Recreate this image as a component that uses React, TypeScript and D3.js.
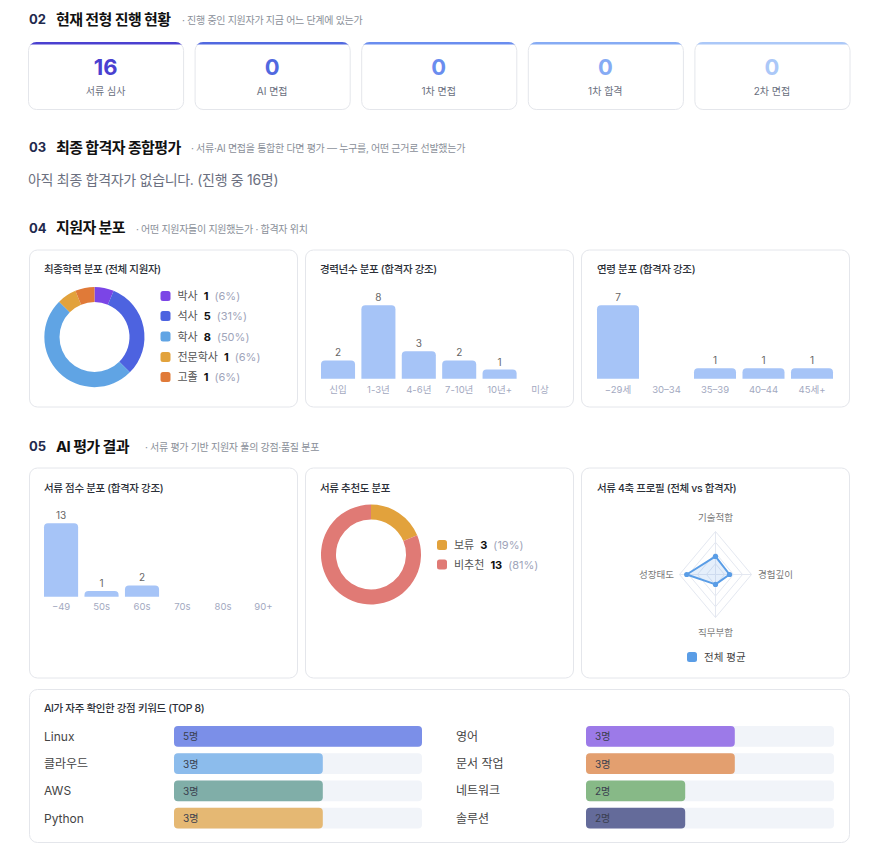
import { arc, line, curveLinearClosed, pie, scaleBand, scaleLinear, max } from 'd3';

const stageLabels = ['서류 심사', 'AI 면접', '1차 면접', '1차 합격', '2차 면접'];
const stageCounts = [16, 0, 0, 0, 0];
const stageColors = ['#4a40d0', '#5169e0', '#6a8def', '#86abf4', '#abc8f8'];

const eduLabels = ['박사', '석사', '학사', '전문학사', '고졸'];
const eduCounts = [1, 5, 8, 1, 1];
const eduColors = ['#7b45e6', '#4d63e0', '#60a4e4', '#e2a23c', '#e07a38'];

const careerLabels = ['신입', '1-3년', '4-6년', '7-10년', '10년+', '미상'];
const careerCounts = [2, 8, 3, 2, 1, 0];

const ageLabels = ['−29세', '30–34', '35–39', '40–44', '45세+'];
const ageCounts = [7, 0, 1, 1, 1];

const scoreLabels = ['−49', '50s', '60s', '70s', '80s', '90+'];
const scoreCounts = [13, 1, 2, 0, 0, 0];

const recLabels = ['보류', '비추천'];
const recCounts = [3, 13];
const recColors = ['#e2a23c', '#e07a75'];

const radarAxes = ['기술적합', '경험깊이', '직무부합', '성장태도'];
const radarAvg = [42, 39, 23, 80];

const keywordLabels = ['Linux', '클라우드', 'AWS', 'Python', '영어', '문서 작업', '네트워크', '솔루션'];
const keywordCounts = [5, 3, 3, 3, 3, 3, 2, 2];
const keywordColors = ['#7b8fe8', '#8cbcec', '#80aea8', '#e5b873', '#9c7ae8', '#e39f6f', '#87b987', '#646b9a'];

const W = 873;
const H = 850;
const font = "Inter, 'Noto Sans CJK KR', sans-serif";
const barColor = '#a6c4f7';
const border = '#e4e6eb';

function Card({ x, y, w, h }: { x: number; y: number; w: number; h: number }) {
  return <rect x={x + 0.5} y={y + 0.5} width={w} height={h} rx={8} fill="#fff" stroke={border} />;
}

function SectionHeader({ num, title, sub, y, subX }: { num: string; title: string; sub: string; y: number; subX: number }) {
  return (
    <g>
      <text x={29} y={y} dominantBaseline="central" fontSize={13} fontWeight={700} fill="#1f2a4d">{num}</text>
      <text x={56} y={y} dominantBaseline="central" fontSize={15} fontWeight={700} fill="#111" letterSpacing={-0.6}>{title}</text>
      <text x={subX} y={y + 1} dominantBaseline="central" fontSize={10} fill="#8a8f99" letterSpacing={-0.3}>{sub}</text>
    </g>
  );
}

function CardTitle({ x, y, text }: { x: number; y: number; text: string }) {
  return <text x={x} y={y} dominantBaseline="central" fontSize={10.5} fontWeight={500} fill="#2b2f38" letterSpacing={-0.35}>{text}</text>;
}

function Bars({ labels, values, x0, x1, baseline, labelY }: { labels: string[]; values: number[]; x0: number; x1: number; baseline: number; labelY: number }) {
  const x = scaleBand<string>().domain(labels).range([x0, x1]).paddingInner(labels.length === 5 ? 0.134 : 0.157).paddingOuter(0);
  const y = scaleLinear().domain([0, max(values) ?? 1]).range([baseline, baseline - 73.5]);
  const bw = x.bandwidth();
  return (
    <g>
      {labels.map((label, i) => {
        const bx = x(label) ?? x0;
        const top = y(values[i]);
        const h = baseline - top;
        const r = Math.min(4, h);
        return (
          <g key={label}>
            {values[i] > 0 && (
              <>
                <path
                  d={`M${bx},${baseline}V${top + r}Q${bx},${top} ${bx + r},${top}H${bx + bw - r}Q${bx + bw},${top} ${bx + bw},${top + r}V${baseline}Z`}
                  fill={barColor}
                />
                <text x={bx + bw / 2} y={top - 8} textAnchor="middle" dominantBaseline="central" fontSize={10} fill="#666">{values[i]}</text>
              </>
            )}
            <text x={bx + bw / 2} y={labelY} textAnchor="middle" dominantBaseline="central" fontSize={9.5} fill="#a3a9bf">{label}</text>
          </g>
        );
      })}
    </g>
  );
}

function Donut({ cx, cy, labels, values, colors, legendY }: { cx: number; cy: number; labels: string[]; values: number[]; colors: string[]; legendY: number[] }) {
  const total = values.reduce((s, v) => s + v, 0);
  const arcs = pie<number>().sort(null).value(d => d)(values);
  const arcGen = arc<any>().innerRadius(35).outerRadius(50);
  return (
    <g>
      {arcs.map((a, i) => (
        <path key={i} d={arcGen(a) ?? ''} transform={`translate(${cx},${cy})`} fill={colors[i]} />
      ))}
      {labels.map((label, i) => (
        <g key={label}>
          <rect x={cx + 66} y={legendY[i] - 5} width={10} height={10} rx={2.5} fill={colors[i]} />
          <text x={cx + 83} y={legendY[i]} dominantBaseline="central" fontSize={11}>
            <tspan fill="#555">{label}</tspan>
            <tspan dx={6} fill="#111" fontWeight={700}>{values[i]}</tspan>
            <tspan dx={6} fill="#a0a5ba">({Math.round((values[i] / total) * 100)}%)</tspan>
          </text>
        </g>
      ))}
    </g>
  );
}

function Radar() {
  const cx = 715.5;
  const cy = 574.5;
  const rx = 36;
  const ry = 43;
  const r = scaleLinear().domain([0, 100]).range([0, 1]);
  const angles = radarAxes.map((_, i) => (i * Math.PI * 2) / radarAxes.length);
  const pt = (a: number, k: number): [number, number] => [cx + rx * k * Math.sin(a), cy - ry * k * Math.cos(a)];
  const poly = line<[number, number]>().curve(curveLinearClosed);
  const levels = [0.25, 0.5, 0.75, 1];
  const data = radarAvg.map((v, i) => pt(angles[i], r(v)));
  const labelPos = [
    { x: cx, y: 517, anchor: 'middle' },
    { x: 758, y: cy, anchor: 'start' },
    { x: cx, y: 632, anchor: 'middle' },
    { x: 674, y: cy, anchor: 'end' },
  ];
  return (
    <g>
      {levels.map(l => (
        <path key={l} d={poly(angles.map(a => pt(a, l))) ?? ''} fill="none" stroke="#e4e8f1" strokeWidth={1} />
      ))}
      {angles.map((a, i) => {
        const [x2, y2] = pt(a, 1);
        return <line key={i} x1={cx} y1={cy} x2={x2} y2={y2} stroke="#e4e8f1" />;
      })}
      <path d={poly(data) ?? ''} fill="rgba(91,158,230,0.16)" stroke="#5a9de6" strokeWidth={2} strokeLinejoin="round" />
      {data.map((d, i) => (
        <circle key={i} cx={d[0]} cy={d[1]} r={2.6} fill="#5a9de6" />
      ))}
      {radarAxes.map((label, i) => (
        <text key={label} x={labelPos[i].x} y={labelPos[i].y} textAnchor={labelPos[i].anchor as any} dominantBaseline="central" fontSize={9.5} fill="#777">{label}</text>
      ))}
      <rect x={687} y={652} width={10} height={10} rx={2.5} fill="#5a9de6" />
      <text x={704} y={657} dominantBaseline="central" fontSize={10.5} fill="#444">전체 평균</text>
    </g>
  );
}

function Keywords() {
  const x = scaleLinear().domain([0, max(keywordCounts) ?? 1]).range([0, 248]);
  const rowY = scaleBand<number>().domain([0, 1, 2, 3]).range([726, 828.6]).paddingInner(0.24).paddingOuter(0);
  return (
    <g>
      {keywordLabels.map((label, i) => {
        const col = i < 4 ? 0 : 1;
        const row = i % 4;
        const lx = col === 0 ? 44 : 456;
        const bx = col === 0 ? 174 : 586;
        const y0 = rowY(row) ?? 0;
        const bh = rowY.bandwidth();
        return (
          <g key={label}>
            <text x={lx} y={y0 + bh / 2} dominantBaseline="central" fontSize={12} fill="#444">{label}</text>
            <rect x={bx} y={y0} width={248} height={bh} rx={4} fill="#f1f4f9" />
            <rect x={bx} y={y0} width={x(keywordCounts[i])} height={bh} rx={4} fill={keywordColors[i]} />
            <text x={bx + 9} y={y0 + bh / 2} dominantBaseline="central" fontSize={10} fill="#3a3f4f">{keywordCounts[i]}명</text>
          </g>
        );
      })}
    </g>
  );
}

export default function App() {
  const stageX = scaleBand<string>().domain(stageLabels).range([28, 849.5]).paddingInner(0.069).paddingOuter(0);
  const sw = stageX.bandwidth();
  return (
    <svg width={W} height={H} viewBox={`0 0 ${W} ${H}`} style={{ position: 'absolute', left: 0, top: 0, background: '#fff', fontFamily: font }}>
      <rect width={W} height={H} fill="#fff" />
      <defs>
        {stageLabels.map((label, i) => (
          <clipPath key={label} id={`stage-clip-${i}`}>
            <rect x={(stageX(label) ?? 0) + 0.5} y={42} width={sw} height={67} rx={8} />
          </clipPath>
        ))}
      </defs>

      <SectionHeader num="02" title="현재 전형 진행 현황" sub="· 진행 중인 지원자가 지금 어느 단계에 있는가" y={19} subX={182} />
      {stageLabels.map((label, i) => {
        const sx = stageX(label) ?? 0;
        return (
          <g key={label}>
            <Card x={sx} y={42} w={sw} h={67} />
            <rect x={sx} y={41} width={sw + 1} height={3.5} fill={stageColors[i]} clipPath={`url(#stage-clip-${i})`} />
            <text x={sx + sw / 2} y={67} textAnchor="middle" dominantBaseline="central" fontSize={22} fontWeight={700} fill={stageColors[i]}>{stageCounts[i]}</text>
            <text x={sx + sw / 2} y={90.5} textAnchor="middle" dominantBaseline="central" fontSize={10} fill="#6b7080">{label}</text>
          </g>
        );
      })}

      <SectionHeader num="03" title="최종 합격자 종합평가" sub="· 서류·AI 면접을 통합한 다면 평가 — 누구를, 어떤 근거로 선발했는가" y={147} subX={191} />
      <text x={28} y={179.5} dominantBaseline="central" fontSize={14} fill="#6b7080" letterSpacing={-0.3}>아직 최종 합격자가 없습니다. (진행 중 {stageCounts[0]}명)</text>

      <SectionHeader num="04" title="지원자 분포" sub="· 어떤 지원자들이 지원했는가 · 합격자 위치" y={227.5} subX={136} />
      <Card x={29} y={249.5} w={268} h={157} />
      <Card x={305} y={249.5} w={268} h={157} />
      <Card x={581} y={249.5} w={268} h={157} />
      <CardTitle x={44} y={269.5} text="최종학력 분포 (전체 지원자)" />
      <CardTitle x={320} y={269.5} text="경력년수 분포 (합격자 강조)" />
      <CardTitle x={597} y={269.5} text="연령 분포 (합격자 강조)" />
      <Donut cx={94.5} cy={337} labels={eduLabels} values={eduCounts} colors={eduColors} legendY={[296, 316, 336.5, 357, 377]} />
      <Bars labels={careerLabels} values={careerCounts} x0={321} x1={557} baseline={378.8} labelY={389.7} />
      <Bars labels={ageLabels} values={ageCounts} x0={597} x1={833} baseline={378.8} labelY={389.7} />

      <SectionHeader num="05" title="AI 평가 결과" sub="· 서류 평가 기반 지원자 풀의 강점·품질 분포" y={446} subX={145} />
      <Card x={29} y={467.5} w={268} h={210} />
      <Card x={305} y={467.5} w={268} h={210} />
      <Card x={581} y={467.5} w={268} h={210} />
      <CardTitle x={44} y={488} text="서류 점수 분포 (합격자 강조)" />
      <CardTitle x={320} y={488} text="서류 추천도 분포" />
      <CardTitle x={597} y={488} text="서류 4축 프로필 (전체 vs 합격자)" />
      <Bars labels={scoreLabels} values={scoreCounts} x0={44} x1={280.5} baseline={596.7} labelY={606} />
      <Donut cx={371} cy={554.5} labels={recLabels} values={recCounts} colors={recColors} legendY={[545, 564.5]} />
      <Radar />

      <Card x={29} y={689} w={820} h={153} />
      <CardTitle x={44} y={708.7} text="AI가 자주 확인한 강점 키워드 (TOP 8)" />
      <Keywords />
    </svg>
  );
}
